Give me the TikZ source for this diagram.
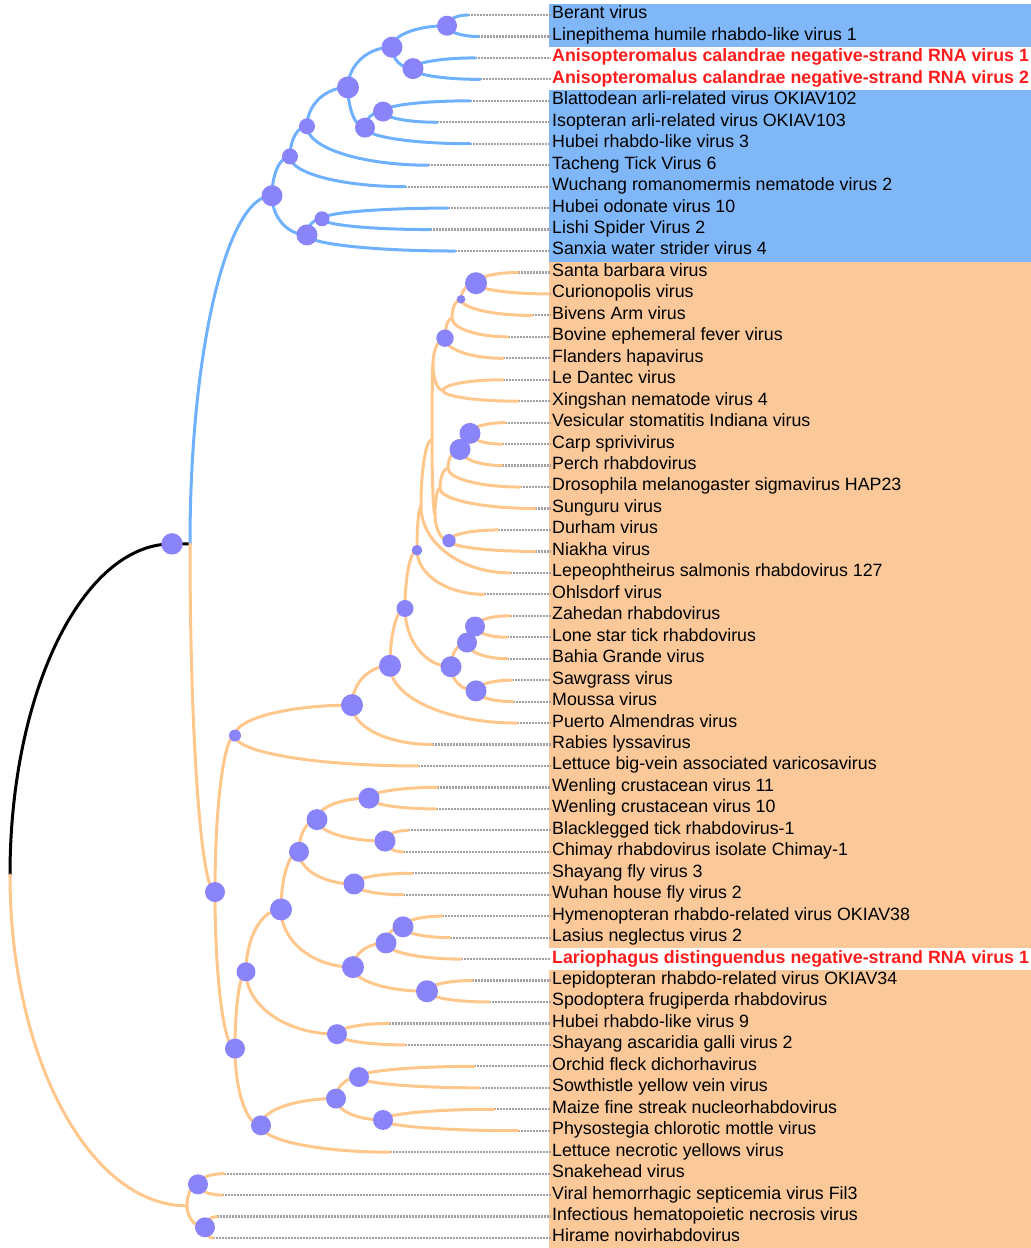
\documentclass[tikz,border=0pt]{standalone}
\usepackage{fontspec}
\setmainfont{Liberation Sans}
\usetikzlibrary{calc}
\definecolor{ramaaz}{HTML}{6FB1FF}
\definecolor{ramana}{HTML}{FFC78C}
\definecolor{fondoaz}{HTML}{80B7F9}
\definecolor{fondona}{HTML}{FAC899}
\definecolor{nodo}{HTML}{8A84FA}
\definecolor{gris}{HTML}{A0A0A0}
\definecolor{rojo}{HTML}{FF1C1C}
\newcommand{\marcado}[1]{\textcolor{rojo}{\textbf{#1}}}

\begin{document}
\begin{tikzpicture}[x=1pt,y=-1pt,
    rama/.style={line width=3pt,line cap=round},
    elip/.style={to path={.. controls ($(\tikztostart)!0.552!(\tikztostart|-\tikztotarget)$) and ($(\tikztotarget)!0.552!(\tikztostart|-\tikztotarget)$) .. (\tikztotarget)}},
    punteada/.style={gris,line width=2.2pt,dash pattern=on 1.9pt off 1.1pt},
    etiq/.style={anchor=west,inner xsep=1pt,inner ysep=0pt,text height=0.79em,text depth=0pt,font=\fontsize{17.8}{20}\selectfont}]
  \useasboundingbox (0,0) rectangle (1031,1248);
  \fill[fondoaz] (549,4.3) rectangle (1031,261.7);
  \fill[white] (549,47.2) rectangle (1031,90.1);
  \fill[fondona] (549,261.7) rectangle (1031,1248);
  \fill[white] (549,948.3) rectangle (1031,969.8);

  \foreach \tx/\txt [count=\i] in {468/Berant virus, 478/Linepithema humile rhabdo-like virus 1,
      475/\marcado{Anisopteromalus calandrae negative-strand RNA virus 1},
      480/\marcado{Anisopteromalus calandrae negative-strand RNA virus 2},
      470/Blattodean arli-related virus OKIAV102, 437/Isopteran arli-related virus OKIAV103,
      470/Hubei rhabdo-like virus 3, 428/Tacheng Tick Virus 6, 405/Wuchang romanomermis nematode virus 2,
      448/Hubei odonate virus 10, 430/Lishi Spider Virus 2, 455/Sanxia water strider virus 4,
      518/Santa barbara virus, 549/Curionopolis virus, 532/Bivens Arm virus, 508/Bovine ephemeral fever virus,
      503/Flanders hapavirus, 503/Le Dantec virus, 518/Xingshan nematode virus 4,
      505/Vesicular stomatitis Indiana virus, 502/Carp sprivivirus, 502/Perch rhabdovirus,
      520/Drosophila melanogaster sigmavirus HAP23, 535/Sunguru virus, 498/Durham virus, 535/Niakha virus,
      510/Lepeophtheirus salmonis rhabdovirus 127, 484/Ohlsdorf virus, 510/Zahedan rhabdovirus,
      507/Lone star tick rhabdovirus, 507/Bahia Grande virus, 512/Sawgrass virus, 513/Moussa virus,
      517/Puerto Almendras virus, 432/Rabies lyssavirus, 418/Lettuce big-vein associated varicosavirus,
      437/Wenling crustacean virus 11, 436/Wenling crustacean virus 10, 408/Blacklegged tick rhabdovirus-1,
      403/Chimay rhabdovirus isolate Chimay-1, 412/Shayang fly virus 3, 403/Wuhan house fly virus 2,
      442/Hymenopteran rhabdo-related virus OKIAV38, 450/Lasius neglectus virus 2,
      461/\marcado{Lariophagus distinguendus negative-strand RNA virus 1},
      472/Lepidopteran rhabdo-related virus OKIAV34, 489/Spodoptera frugiperda rhabdovirus,
      389/Hubei rhabdo-like virus 9, 405/Shayang ascaridia galli virus 2, 474/Orchid fleck dichorhavirus,
      479/Sowthistle yellow vein virus, 494/Maize fine streak nucleorhabdovirus,
      518/Physostegia chlorotic mottle virus, 390/Lettuce necrotic yellows virus, 224/Snakehead virus,
      222/Viral hemorrhagic septicemia virus Fil3, 217/Infectious hematopoietic necrosis virus,
      213/Hirame novirhabdovirus}{
    \coordinate (t\i) at (\tx,{15+(\i-1)*21.456});
    \node[etiq] (l\i) at (551,{15+(\i-1)*21.456}) {\txt};
  }
  \foreach \i in {1,...,58}
    \draw[punteada] (t\i) -- (t\i -| l\i.west);

  \foreach \n/\x/\y in {raiz/10/874.85, nS0/172/543.88, nS/190/543.88,
      nA/447/25.73, nB/392/47.18, nC/413/68.64, nD/348/87.41, nE/365/127.64, nF/383/111.55,
      nG/307/126.30, nH/290/156.47, nI/272/195.70, nJ/307/234.92, nK/322/218.83,
      nP1/476/283.20, nP2/461/299.29, nW1/452/318.07, nW2/445/338.18, nLX/443/390.48, nU4/433/364.33,
      nV0/470/433.39, nV1/460/449.48, nV2/448/468.26, nV3/440/488.37, nDN/449/540.67, nV4/435/514.52,
      nU3/432/439.43, nU2/421/506.14, nU1/417/550.23, nZ1/475/626.50, nZ2/467/642.59, nZ3/476/690.86,
      nZ4/451/666.73, nU0/405/608.48, nQ1/390/665.76, nQ2/352/705.13, nO2/235/735.55,
      nL1/369/798.14, nL2/385/841.06, nL3/317/819.60, nL4/354/883.97, nL5/299/851.79, nM1/403/926.88,
      nM2/386/942.97, nM3/427/991.25, nM4/353/967.11, nL6/281/909.45, nH9/337/1034.16, nL7/246/971.81,
      nR1/359/1077.07, nR2/383/1119.98, nR3/336/1098.53, nR4/261/1125.35, nO3/235/1048.58, nO1/215/892.07,
      nNv1/198/1184.35, nNv2/205/1227.26, nNv/187/1205.81}
    \coordinate (\n) at (\x,\y);

  \draw[rama,black] (raiz) to[elip] (nS0) -- (nS);
  \foreach \a/\b in {nS/nI, nI/nH, nI/nJ, nH/nG, nH/t9, nG/nD, nG/t8, nD/nB, nD/nE, nB/nA, nB/nC,
      nA/t1, nA/t2, nC/t3, nC/t4, nE/nF, nE/t7, nF/t5, nF/t6, nJ/nK, nJ/t12, nK/t10, nK/t11}
    \draw[rama,ramaaz] (\a) to[elip] (\b);
  \foreach \a/\b in {nS/nO1, nO1/nO2, nO1/nO3, nO2/nQ2, nO2/t36, nQ2/nQ1, nQ2/t35, nQ1/nU0, nQ1/t34,
      nU0/nU1, nU0/nZ4, nZ4/nZ2, nZ4/nZ3, nZ2/nZ1, nZ2/t31, nZ1/t29, nZ1/t30, nZ3/t32, nZ3/t33,
      nU1/nU2, nU1/t28, nU2/nU3, nU2/t27, nU3/nU4, nU3/nV4, nU4/nW2, nU4/nLX, nLX/t18, nLX/t19,
      nW2/nW1, nW2/t17, nW1/nP2, nW1/t16, nP2/nP1, nP2/t15, nP1/t13, nP1/t14,
      nV4/nV3, nV4/nDN, nDN/t25, nDN/t26, nV3/nV2, nV3/t24, nV2/nV1, nV2/t23, nV1/nV0, nV1/t22,
      nV0/t20, nV0/t21,
      nO3/nL7, nO3/nR4, nL7/nL6, nL7/nH9, nH9/t48, nH9/t49, nL6/nL5, nL6/nM4, nL5/nL3, nL5/nL4,
      nL3/nL1, nL3/nL2, nL1/t37, nL1/t38, nL2/t39, nL2/t40, nL4/t41, nL4/t42, nM4/nM2, nM4/nM3,
      nM2/nM1, nM2/t45, nM1/t43, nM1/t44, nM3/t46, nM3/t47, nR4/nR3, nR4/t54, nR3/nR1, nR3/nR2,
      nR1/t50, nR1/t51, nR2/t52, nR2/t53,
      raiz/nNv, nNv/nNv1, nNv/nNv2, nNv1/t55, nNv1/t56, nNv2/t57, nNv2/t58}
    \draw[rama,ramana] (\a) to[elip] (\b);

  \foreach \n/\r in {nA/10, nB/10.5, nC/10.5, nD/11, nE/10, nF/10, nG/8, nH/8, nI/10.5, nJ/10.5, nK/7.5,
      nS0/10.7, nP1/11, nP2/4.3, nW2/8.7, nV0/10.5, nV1/10.5, nDN/6.7, nU1/5.3, nZ1/10, nZ2/10,
      nZ3/10.5, nZ4/10.5, nU0/8.5, nQ1/11, nQ2/11, nO2/6,
      nL1/10.5, nL2/10.5, nL3/10.5, nL4/10.5, nL5/10, nL6/11, nM1/10.5, nM2/10.5, nM3/11, nM4/11,
      nL7/9.5, nH9/10, nR1/10, nR2/10, nR3/10, nR4/10, nO3/10, nO1/10, nNv1/10, nNv2/10}
    \fill[nodo] (\n) circle[radius=\r];
\end{tikzpicture}
\end{document}
